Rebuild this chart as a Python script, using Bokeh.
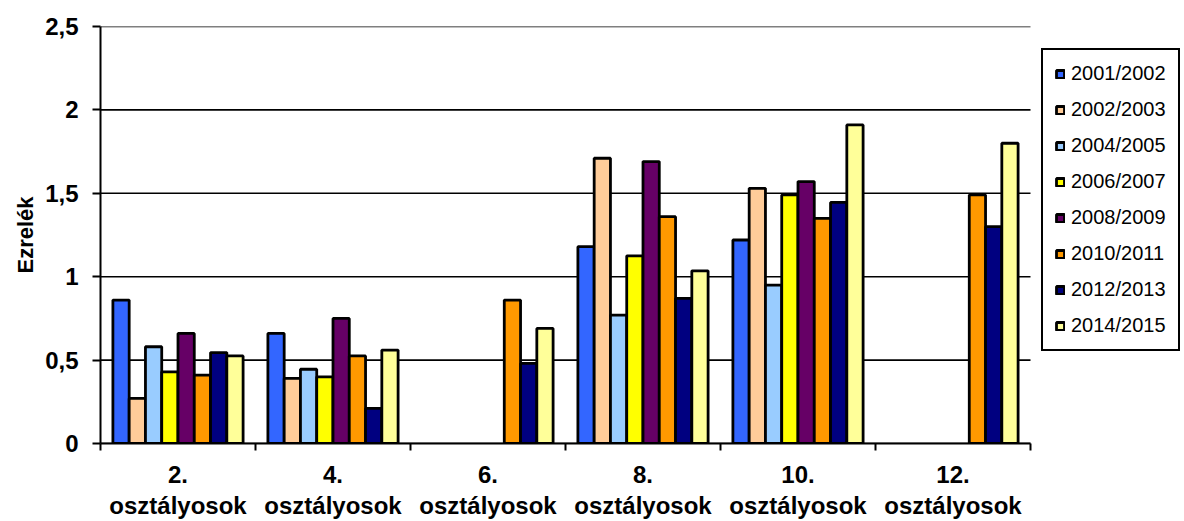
import numpy as np
from bokeh.plotting import figure
from bokeh.models import (ColumnDataSource, Range1d, FixedTicker, CustomJSTickFormatter,
                          Legend, LegendItem)
from bokeh.embed import file_html
from bokeh.resources import INLINE

# ---- data ----
categories = ["2.\nosztályosok", "4.\nosztályosok", "6.\nosztályosok",
              "8.\nosztályosok", "10.\nosztályosok", "12.\nosztályosok"]
series_names = ["2001/2002", "2002/2003", "2004/2005", "2006/2007",
                "2008/2009", "2010/2011", "2012/2013", "2014/2015"]
nan = np.nan
v_2001_2002 = [0.86, 0.66, nan, 1.18, 1.22, nan]
v_2002_2003 = [0.27, 0.39, nan, 1.71, 1.53, nan]
v_2004_2005 = [0.58, 0.445, nan, 0.77, 0.95, nan]
v_2006_2007 = [0.43, 0.40, nan, 1.125, 1.49, nan]
v_2008_2009 = [0.66, 0.75, nan, 1.69, 1.57, nan]
v_2010_2011 = [0.41, 0.525, 0.86, 1.36, 1.35, 1.49]
v_2012_2013 = [0.545, 0.21, 0.48, 0.87, 1.445, 1.30]
v_2014_2015 = [0.525, 0.56, 0.69, 1.035, 1.91, 1.80]
series_values = [v_2001_2002, v_2002_2003, v_2004_2005, v_2006_2007,
                 v_2008_2009, v_2010_2011, v_2012_2013, v_2014_2015]
colors = ["#3366FF", "#FFCC99", "#99CCFF", "#FFFF00",
          "#660066", "#FF9900", "#000080", "#FFFF99"]
y_ticks = [0, 0.5, 1, 1.5, 2, 2.5]

FONT = "Liberation Sans"

W, H = 1184, 521
LEFT, TOP, BOTTOM = 100, 26, 74
PLOT_W = 930                      # pixel width of the category area
ncat = len(categories)
x_end = ncat * (W - LEFT) / PLOT_W  # frame spans to the right edge (room for legend)

p = figure(width=W, height=H, output_backend="svg", toolbar_location=None,
           x_range=Range1d(0, x_end), y_range=Range1d(0, 2.5),
           min_border_left=LEFT, min_border_right=0, min_border_top=TOP,
           min_border_bottom=BOTTOM)
p.outline_line_color = None
p.background_fill_color = "white"
p.border_fill_color = "white"

# horizontal grid lines limited to the category area
p.segment(x0=[0] * len(y_ticks), x1=[ncat] * len(y_ticks), y0=y_ticks, y1=y_ticks,
          line_color="black", line_width=1.6)

step = 0.105
n = len(series_names)
items = []
for j, (name, vals, col) in enumerate(zip(series_names, series_values, colors)):
    xs = [i + 0.5 + (j - (n - 1) / 2) * step for i in range(ncat)]
    src = ColumnDataSource(dict(x=xs, top=vals))
    r = p.vbar(x="x", top="top", bottom=0, width=step, source=src,
               fill_color=col, line_color="black", line_width=2.8)
    items.append(LegendItem(label=name, renderers=[r]))

# x axis: boundary ticks as minor ticks, labels at centres
p.xaxis.bounds = (0, ncat)
p.xaxis.ticker = FixedTicker(ticks=[i + 0.5 for i in range(ncat)],
                             minor_ticks=list(range(ncat + 1)))
p.xaxis.formatter = CustomJSTickFormatter(args=dict(labels=categories),
                                          code="return labels[Math.floor(tick)];")
p.xaxis.major_tick_line_color = None
p.xaxis.minor_tick_line_color = "black"
p.xaxis.minor_tick_line_width = 2
p.xaxis.minor_tick_out = 7
p.xaxis.minor_tick_in = 0
p.xaxis.axis_line_width = 2
p.xaxis.axis_line_color = "black"
p.xaxis.major_label_text_font = FONT
p.xaxis.major_label_text_font_style = "bold"
p.xaxis.major_label_text_font_size = "24px"
p.xaxis.major_label_text_color = "black"
p.xaxis.major_label_text_line_height = 1.15
p.xaxis.major_label_standoff = 10

# y axis
p.yaxis.ticker = FixedTicker(ticks=y_ticks)
p.yaxis.formatter = CustomJSTickFormatter(code="return tick.toString().replace('.', ',');")
p.yaxis.axis_line_width = 2
p.yaxis.axis_line_color = "black"
p.yaxis.major_tick_line_width = 2
p.yaxis.major_tick_line_color = "black"
p.yaxis.major_tick_out = 8
p.yaxis.major_tick_in = 0
p.yaxis.minor_tick_line_color = None
p.yaxis.major_label_text_font = FONT
p.yaxis.major_label_text_font_style = "bold"
p.yaxis.major_label_text_font_size = "24px"
p.yaxis.major_label_text_color = "black"
p.yaxis.major_label_standoff = 14
p.yaxis.axis_label = "Ezrelék"
p.yaxis.axis_label_text_font = FONT
p.yaxis.axis_label_text_font_style = "bold"
p.yaxis.axis_label_text_font_size = "22px"
p.yaxis.axis_label_text_color = "black"
p.yaxis.axis_label_standoff = 4

p.xgrid.grid_line_color = None
p.ygrid.grid_line_color = None

legend = Legend(items=items, location=(941, 92))
legend.border_line_color = "black"
legend.border_line_width = 2
legend.border_line_alpha = 1
legend.background_fill_color = "white"
legend.background_fill_alpha = 1
legend.padding = 12
legend.spacing = 13
legend.label_height = 22
legend.glyph_height = 10
legend.glyph_width = 10
legend.label_standoff = 6
legend.label_text_font = FONT
legend.label_text_font_size = "20px"
legend.label_text_color = "black"
legend.margin = 0
p.add_layout(legend, "center")

open("out.html", "w").write(file_html(p, INLINE))
